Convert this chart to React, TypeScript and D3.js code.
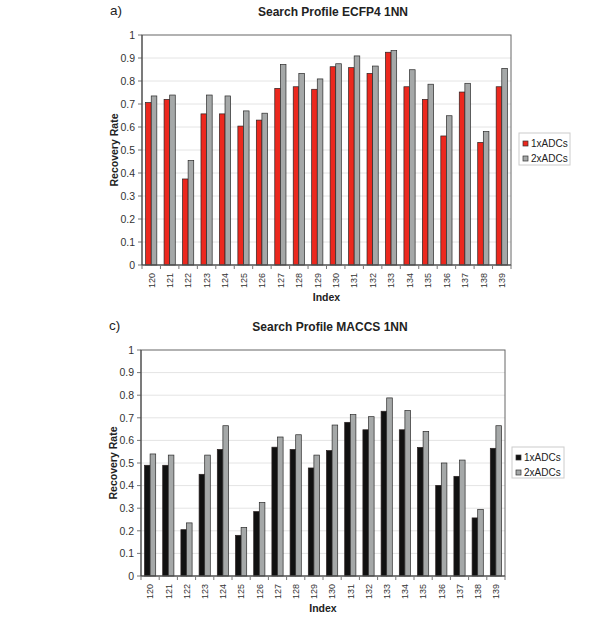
import React from "react";
import * as d3 from "d3";

const categories = ["120","121","122","123","124","125","126","127","128","129","130","131","132","133","134","135","136","137","138","139"];
const ecfp1x = [0.706,0.72,0.374,0.657,0.657,0.604,0.63,0.768,0.775,0.764,0.862,0.858,0.833,0.925,0.775,0.72,0.561,0.752,0.533,0.775];
const ecfp2x = [0.735,0.739,0.454,0.739,0.735,0.67,0.66,0.872,0.833,0.809,0.875,0.909,0.865,0.932,0.849,0.786,0.649,0.79,0.58,0.855];
const maccs1x = [0.49,0.49,0.205,0.45,0.56,0.18,0.285,0.57,0.56,0.478,0.555,0.68,0.647,0.729,0.647,0.569,0.401,0.441,0.257,0.565];
const maccs2x = [0.54,0.535,0.235,0.535,0.665,0.215,0.325,0.615,0.625,0.535,0.668,0.714,0.705,0.788,0.732,0.64,0.5,0.513,0.295,0.665];
const yTicks = [0,0.1,0.2,0.3,0.4,0.5,0.6,0.7,0.8,0.9,1];
const seriesNames = ["1xADCs","2xADCs"];

const FONT = "'Liberation Sans', Arial, Helvetica, sans-serif";

type ChartProps = {
  letter: string; title: string; titleX: number; s1: number[]; s2: number[]; c1: string; c2: string;
  left: number; right: number; top: number; bottom: number;
  legend: { x: number; y: number; w: number; h: number };
};

function Chart({ letter, title, titleX, s1, s2, c1, c2, left, right, top, bottom, legend }: ChartProps) {
  const x = d3.scaleBand<string>().domain(categories).range([left, right]).paddingInner(0).paddingOuter(0);
  const y = d3.scaleLinear().domain([0, 1]).range([bottom, top]);
  const bw = x.bandwidth();
  const barW = 5.6;
  const cx = (left + right) / 2;
  return (
    <g fontFamily={FONT}>
      <text x={left - 32} y={top - 20} fontSize={13.5} fill="#222">{letter}</text>
      <text x={titleX} y={top - 19} fontSize={12} fontWeight="bold" textAnchor="middle" fill="#222">{title}</text>
      {yTicks.map((t) => (
        <g key={t}>
          {t > 0 && t < 1 && <line x1={left} x2={right} y1={y(t)} y2={y(t)} stroke="#e4e4e4" strokeWidth={1} />}
          <line x1={left - 4} x2={left} y1={y(t)} y2={y(t)} stroke="#777" strokeWidth={1} />
          <text x={left - 7} y={y(t) + 3.7} fontSize={10.5} textAnchor="end" fill="#333">{d3.format("")(t)}</text>
        </g>
      ))}
      {categories.map((c, i) => {
        const x0 = (x(c) as number) + bw / 2 - barW;
        return (
          <g key={c}>
            <rect x={x0} y={y(s1[i])} width={barW} height={y(0) - y(s1[i])} fill={c1} stroke="#2a2222" strokeWidth={0.7} />
            <rect x={x0 + barW} y={y(s2[i])} width={barW} height={y(0) - y(s2[i])} fill={c2} stroke="#2a2a2a" strokeWidth={0.7} />
          </g>
        );
      })}
      <rect x={left} y={top} width={right - left} height={bottom - top} fill="none" stroke="#666" strokeWidth={1} />
      <line x1={left} x2={left} y1={top} y2={bottom} stroke="#444" strokeWidth={1} />
      <line x1={left} x2={right} y1={bottom} y2={bottom} stroke="#444" strokeWidth={1} />
      {categories.map((c) => (
        <line key={"t" + c} x1={x(c) as number} x2={x(c) as number} y1={bottom} y2={bottom + 4} stroke="#777" strokeWidth={1} />
      ))}
      <line x1={right} x2={right} y1={bottom} y2={bottom + 4} stroke="#777" strokeWidth={1} />
      {categories.map((c) => {
        const px = (x(c) as number) + bw / 2 + 3.3;
        const py = bottom + 8;
        return (
          <text key={"l" + c} x={px} y={py} fontSize={9} textAnchor="end" fill="#333" transform={`rotate(-90 ${px} ${py})`}>{c}</text>
        );
      })}
      <text x={cx} y={bottom + 36} fontSize={10.5} fontWeight="bold" textAnchor="middle" fill="#222">Index</text>
      <text x={0} y={0} fontSize={10.5} fontWeight="bold" textAnchor="middle" fill="#222"
        transform={`translate(${left - 24},${(top + bottom) / 2}) rotate(-90)`}>Recovery Rate</text>
      <rect x={legend.x} y={legend.y} width={legend.w} height={legend.h} fill="#fff" stroke="#ccc" strokeWidth={1} />
      {seriesNames.map((n, i) => (
        <g key={n}>
          <rect x={legend.x + 4} y={legend.y + 8 + i * 15} width={5} height={5} fill={i === 0 ? c1 : c2} stroke="#333" strokeWidth={0.7} />
          <text x={legend.x + 12} y={legend.y + 13.5 + i * 15} fontSize={10} fill="#222">{n}</text>
        </g>
      ))}
    </g>
  );
}

export default function App() {
  return (
    <svg width={594} height={618} style={{ position: "absolute", left: 0, top: 0, background: "#fff" }}>
      <rect x={0} y={0} width={594} height={618} fill="#fff" />
      <Chart letter="a)" title="Search Profile ECFP4 1NN" titleX={333} s1={ecfp1x} s2={ecfp2x} c1="#ec281e" c2="#a5a8a8"
        left={142} right={511} top={35} bottom={265} legend={{ x: 519, y: 133, w: 51, h: 32 }} />
      <Chart letter="c)" title="Search Profile MACCS 1NN" titleX={330} s1={maccs1x} s2={maccs2x} c1="#111111" c2="#a5a8a8"
        left={141} right={505} top={350} bottom={576} legend={{ x: 512, y: 447, w: 52, h: 31 }} />
    </svg>
  );
}
